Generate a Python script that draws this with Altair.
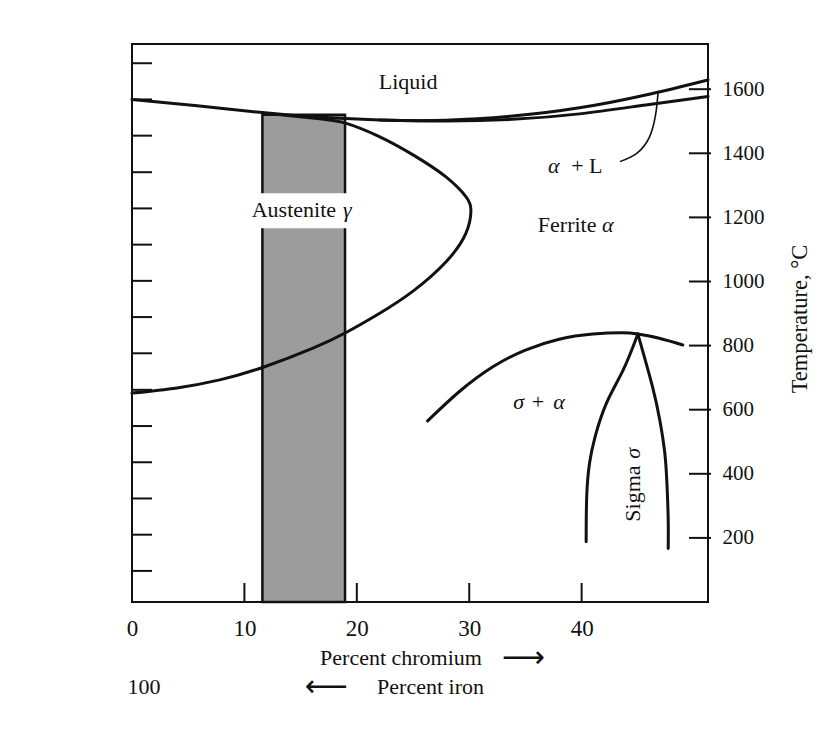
import altair as alt
import pandas as pd

# ---------------- data ----------------
# liquidus: upper branch (liquid / alpha+L boundary)
liq_upper_x = [0, 5.8, 11.6, 16, 22, 27.9, 33.85, 39.8, 45.7, 51.24]
liq_upper_y = [1568, 1548, 1527, 1514, 1504, 1503, 1516, 1542, 1582, 1629]
# solidus: lower branch
liq_lower_x = [22, 27.9, 33.85, 39.8, 45.7, 51.24]
liq_lower_y = [1504, 1501, 1506, 1523, 1551, 1577]
# gamma loop
gamma_x = [13, 16.7, 19, 22, 25, 27.9, 29.7, 30.15, 29.7, 27.9, 25, 22, 19, 16.1, 11.8, 7.8, 4, 0]
gamma_y = [1521, 1508, 1494, 1452, 1395, 1327, 1265, 1223, 1150, 1060, 970, 900, 840, 792, 734, 693, 668, 652]
# sigma + alpha dome
dome_x = [26.3, 29.1, 32.1, 35.0, 38.0, 41.0, 43.6, 45.0, 46.9, 49.0]
dome_y = [565, 656, 734, 786, 820, 836, 840, 836, 823, 802]
# sigma phase boundaries
sig_left_x = [45.0, 43.7, 42.2, 41.2, 40.7, 40.45, 40.4]
sig_left_y = [836, 724, 620, 516, 433, 329, 188]
sig_right_x = [45.0, 46.3, 46.95, 47.4, 47.6, 47.7, 47.7]
sig_right_y = [836, 672, 568, 464, 360, 256, 167]
# leader line for alpha + L
leader_x = [46.8, 46.6, 46.05, 44.9, 43.4]
leader_y = [1590, 1525, 1452, 1400, 1374]

# shaded stainless band (percent Cr) and its top temperature
band_x = [11.6]
band_x2 = [18.95]
band_top = [1520]
# gap behind "Austenite" label
gap_y = [1166]
gap_y2 = [1275]

x_ticks = [0, 10, 20, 30, 40]
x_inner_ticks = [10, 20, 30, 40]
y_ticks = [200, 400, 600, 800, 1000, 1200, 1400, 1600]
left_ticks = [97, 210, 323, 436, 549, 662, 776, 889, 1002, 1115, 1228, 1341, 1455, 1568, 1681]

# labels
center_text = ["Liquid", "100"]
center_x = [24.56, 1.07]
center_y = [1622, -265]

normal_text = ["+ L", "Ferrite", "Austenite", "+", "Percent chromium", "Percent iron"]
normal_x = [39.07, 36.1, 10.65, 35.56, 16.73, 21.8]
normal_y = [1360, 1176, 1223, 625, -175, -265]

italic_text = ["α", "α", "γ", "σ", "α"]
italic_x = [37.0, 41.8, 18.77, 33.92, 37.48]
italic_y = [1360, 1176, 1223, 625, 625]

arrow_text = ["⟶", "⟵"]
arrow_x = [32.9, 15.39]
arrow_y = [-175, -265]

XMAX = 51.24
YMAX = 1741
W, H = 576, 558
FONT = "Liberation Serif"
FS = 22

# ---------------- build tables ----------------
def series(name, xs, ys):
    return pd.DataFrame({"series": name, "order": range(len(xs)), "x": xs, "y": ys})

curves = pd.concat([
    series("liq_upper", liq_upper_x, liq_upper_y),
    series("liq_lower", liq_lower_x, liq_lower_y),
    series("gamma", gamma_x, gamma_y),
    series("dome", dome_x, dome_y),
    series("sig_left", sig_left_x, sig_left_y),
    series("sig_right", sig_right_x, sig_right_y),
])
leader = series("leader", leader_x, leader_y)

band = pd.DataFrame({"x": band_x, "x2": band_x2, "y": [0], "y2": band_top})
gap = pd.DataFrame({"x": [band_x[0] - 0.3], "x2": [band_x2[0] + 0.3], "y": gap_y, "y2": gap_y2})

center_df = pd.DataFrame({"t": center_text, "x": center_x, "y": center_y})
normal_df = pd.DataFrame({"t": normal_text, "x": normal_x, "y": normal_y})
italic_df = pd.DataFrame({"t": italic_text, "x": italic_x, "y": italic_y})
arrow_df = pd.DataFrame({"t": arrow_text, "x": arrow_x, "y": arrow_y})

xs = alt.Scale(domain=[0, XMAX], nice=False, zero=False)
ys = alt.Scale(domain=[0, YMAX], nice=False, zero=False)

x_axis = alt.Axis(values=x_ticks, ticks=False, domain=False, grid=False, title=None,
                  labelFont=FONT, labelFontSize=23, labelColor="#111", labelPadding=15,
                  labelFlush=False, format="d")
y_axis = alt.Axis(orient="right", values=y_ticks, ticks=False, domain=False, grid=False,
                  title=None, labelFont=FONT, labelFontSize=21, labelColor="#111",
                  labelPadding=14, format="d")

def X(field="x"):
    return alt.X(f"{field}:Q", scale=xs, axis=x_axis)

def Y(field="y"):
    return alt.Y(f"{field}:Q", scale=ys, axis=y_axis)

band_layer = alt.Chart(band).mark_rect(fill="#9c9c9c", stroke="#111", strokeWidth=2.5).encode(
    x=X(), x2="x2:Q", y=Y(), y2="y2:Q")
gap_layer = alt.Chart(gap).mark_rect(fill="white").encode(
    x=X(), x2="x2:Q", y=Y(), y2="y2:Q")

curve_layer = alt.Chart(curves).mark_line(interpolate="natural", strokeWidth=3,
                                         color="#111", strokeCap="round").encode(
    x=X(), y=Y(), detail="series:N", order="order:Q")
leader_layer = alt.Chart(leader).mark_line(interpolate="natural", strokeWidth=1.6,
                                          color="#111").encode(
    x=X(), y=Y(), order="order:Q")

left_tick_layer = alt.Chart(pd.DataFrame({"y": left_ticks})).mark_rule(
    color="#111", strokeWidth=2).encode(y=Y(), x=alt.value(0), x2=alt.value(20))
bottom_tick_layer = alt.Chart(pd.DataFrame({"x": x_inner_ticks})).mark_rule(
    color="#111", strokeWidth=2).encode(x=X(), y=alt.value(H), y2=alt.value(H - 19))
right_tick_layer = alt.Chart(pd.DataFrame({"y": y_ticks})).mark_rule(
    color="#111", strokeWidth=2).encode(y=Y(), x=alt.value(W - 19), x2=alt.value(W + 3))

text_center = alt.Chart(center_df).mark_text(font=FONT, fontSize=FS, color="#111",
                                             baseline="middle", align="center").encode(
    x=X(), y=Y(), text="t:N")
text_normal = alt.Chart(normal_df).mark_text(font=FONT, fontSize=FS, color="#111",
                                             baseline="middle", align="left").encode(
    x=X(), y=Y(), text="t:N")
text_italic = alt.Chart(italic_df).mark_text(font=FONT, fontSize=FS, fontStyle="italic",
                                             color="#111", baseline="middle", align="left").encode(
    x=X(), y=Y(), text="t:N")
text_arrow = alt.Chart(arrow_df).mark_text(font="DejaVu Sans", fontSize=30, color="#111",
                                           baseline="middle", align="left").encode(
    x=X(), y=Y(), text="t:N")

sigma_word = alt.Chart(pd.DataFrame({"t": ["Sigma"], "x": [44.53], "y": [250.5]})).mark_text(
    font=FONT, fontSize=FS, color="#111", baseline="middle", align="left", angle=270).encode(
    x=X(), y=Y(), text="t:N")
sigma_sym = alt.Chart(pd.DataFrame({"t": ["σ"], "x": [44.53], "y": [447]})).mark_text(
    font=FONT, fontSize=FS, fontStyle="italic", color="#111", baseline="middle", align="left",
    angle=270).encode(x=X(), y=Y(), text="t:N")
temp_title = alt.Chart(pd.DataFrame({"t": ["Temperature, °C"], "x": [59.4], "y": [883]})).mark_text(
    font=FONT, fontSize=22.5, color="#111", baseline="middle", align="center", angle=270).encode(
    x=X(), y=Y(), text="t:N")

chart = alt.layer(
    band_layer, gap_layer, curve_layer, leader_layer,
    left_tick_layer, bottom_tick_layer, right_tick_layer,
    text_center, text_normal, text_italic, text_arrow, sigma_word, sigma_sym, temp_title,
).properties(
    width=W, height=H,
    autosize=alt.AutoSizeParams(type="none"),
    padding={"left": 124, "top": 36, "right": 110, "bottom": 110},
    background="white",
).configure_view(stroke="#111", strokeWidth=2)

chart.save("out.html", embed_options={"renderer": "svg", "actions": False})
